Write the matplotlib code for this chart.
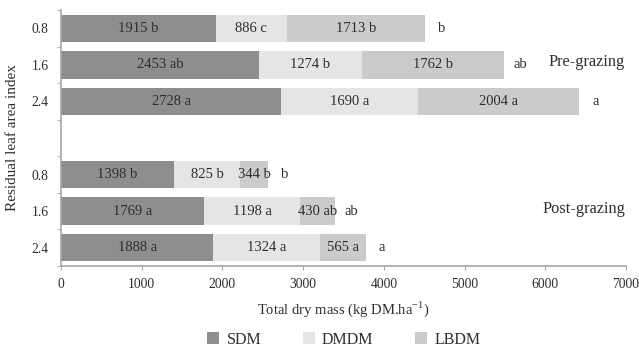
import numpy as np
import matplotlib
matplotlib.use("Agg")
import matplotlib.pyplot as plt
from matplotlib.patches import Patch

plt.rcParams['font.family'] = ['Liberation Serif', 'DejaVu Serif']

# dados (de cima para baixo)
categorias = ["0.8", "1.6", "2.4", "", "0.8", "1.6", "2.4"]
sdm = [1915, 2453, 2728, 0, 1398, 1769, 1888]
dmdm = [886, 1274, 1690, 0, 825, 1198, 1324]
lbdm = [1713, 1762, 2004, 0, 344, 430, 565]
letras_sdm = ["b", "ab", "a", "", "b", "a", "a"]
letras_dmdm = ["c", "b", "a", "", "b", "a", "a"]
letras_lbdm = ["b", "b", "a", "", "b", "ab", "a"]
letras_total = ["b", "ab", "a", "", "b", "ab", "a"]

cores = {"SDM": "#8e8e8e", "DMDM": "#e5e5e5", "LBDM": "#cbcbcb"}
cinza_eixo = "#a6a6a6"
cor_texto = "#2e2e2e"

fig = plt.figure(figsize=(6.39, 3.5), dpi=100)
ax = fig.add_axes([61 / 639, 1 - 266 / 350, 565 / 639, 256 / 350])

y = np.arange(len(categorias))
altura = 0.75
esquerda = np.zeros(len(categorias))
for nome, valores, letras in [("SDM", sdm, letras_sdm),
                              ("DMDM", dmdm, letras_dmdm),
                              ("LBDM", lbdm, letras_lbdm)]:
    valores = np.array(valores)
    ax.barh(y, valores, left=esquerda, height=altura, color=cores[nome],
            edgecolor="none")
    for i, (v, l) in enumerate(zip(valores, letras)):
        if v > 0:
            ax.text(esquerda[i] + v / 2, y[i], f"{v} {l}", ha="center",
                    va="center", fontsize=10.5, color=cor_texto)
    esquerda = esquerda + valores

# letras do total ao fim de cada barra
for i, l in enumerate(letras_total):
    if l:
        ax.text(esquerda[i] + 200, y[i], l, ha="center", va="center",
                fontsize=10.5, color=cor_texto)

ax.text(6990, 0.93, "Pre-grazing", ha="right", va="center", fontsize=11.8,
        color=cor_texto)
ax.text(6990, 4.93, "Post-grazing", ha="right", va="center", fontsize=11.8,
        color=cor_texto)

ax.set_xlim(0, 7000)
ax.set_ylim(len(categorias) - 0.5, -0.5)
ax.set_xticks(range(0, 7001, 1000))
ax.set_yticks(y)
ax.set_yticklabels(categorias)
ax.set_yticks(np.arange(-0.5, len(categorias)), minor=True)
ax.tick_params(axis="y", which="major", length=0, pad=9, labelsize=9.8,
               labelcolor=cor_texto)
ax.tick_params(axis="y", which="minor", length=3, color=cinza_eixo)
ax.tick_params(axis="x", length=3, color=cinza_eixo, labelsize=9.8,
               labelcolor=cor_texto, pad=6)

for s in ["top", "right"]:
    ax.spines[s].set_visible(False)
for s in ["left", "bottom"]:
    ax.spines[s].set_color(cinza_eixo)
    ax.spines[s].set_linewidth(1.2)

ax.set_xlabel("Total dry mass (kg DM.ha$^{\\mathregular{-1}}$)", fontsize=10.5,
              color=cor_texto, labelpad=6)
ax.set_ylabel("Residual leaf area index", fontsize=11, color=cor_texto,
              labelpad=9)

handles = [Patch(facecolor=c, edgecolor="none", label=n) for n, c in cores.items()]
fig.legend(handles=handles, loc="center", bbox_to_anchor=(0.538, 0.03), ncol=3,
           frameon=False, fontsize=11.5, handlelength=0.75, handleheight=0.75,
           columnspacing=2.6, handletextpad=0.45, labelcolor=cor_texto)

fig.savefig("out.png", dpi=100)
